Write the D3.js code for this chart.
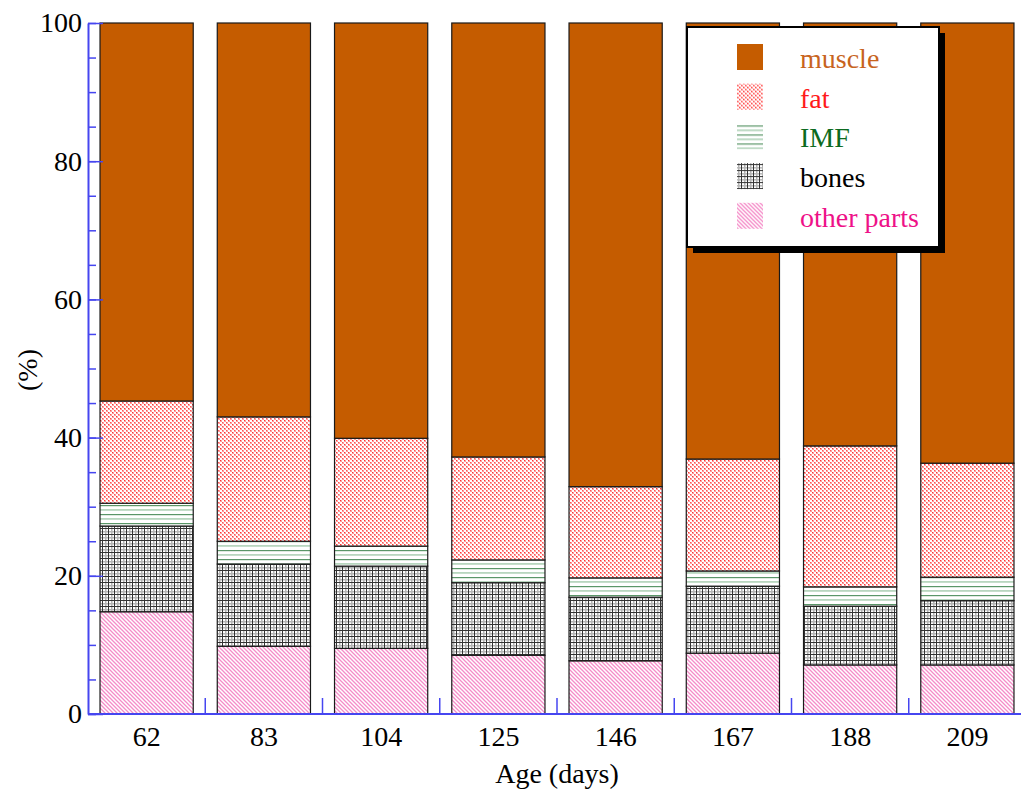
<!DOCTYPE html>
<html>
<head>
<meta charset="utf-8">
<script src="https://cdn.jsdelivr.net/npm/d3@7"></script>
<style>
body { margin: 0; background: #fff; }
svg { display: block; font-family: "Liberation Serif", "DejaVu Serif", serif; }
</style>
</head>
<body>
<svg class="chart"></svg>
<script>
/////////////// data ////////////////
const AGES = ["62", "83", "104", "125", "146", "167", "188", "209"];
// share of each part (%), read bottom to top
const OTHER = [14.8, 9.8, 9.5, 8.5, 7.7, 8.8, 7.1, 7.1];
const BONES = [12.4, 11.9, 11.9, 10.5, 9.2, 9.7, 8.5, 9.3];
const IMF = [3.3, 3.3, 2.9, 3.3, 2.8, 2.2, 2.8, 3.4];
const FAT = [14.8, 18.0, 15.6, 14.9, 13.2, 16.2, 20.4, 16.5];
const MUSCLE = [54.7, 57.0, 60.1, 62.8, 67.1, 63.1, 61.2, 63.7];
const KEYS = ["other", "bones", "imf", "fat", "muscle"];
const LEGEND_ORDER = ["muscle", "fat", "imf", "bones", "other"];
const LABELS = { muscle: "muscle", fat: "fat", imf: "IMF", bones: "bones", other: "other parts" };
const TEXT_COL = { muscle: "#c8641e", fat: "#ff1a1a", imf: "#0c6a20", bones: "#000", other: "#ee1188" };
const Y_MAJOR = [0, 20, 40, 60, 80, 100];

/////////////// layout ////////////////
const W = 1021;
const H = 792;
const AXIS_COL = "#4646f0";
const SVG = d3.select(".chart")
    .attr("width", W)
    .attr("height", H);

const X = d3.scaleBand()
    .domain(AGES)
    .range([88, 1026])
    .paddingInner(0.205)
    .paddingOuter(0.1025);
const Y = d3.scaleLinear()
    .domain([0, 100])
    .range([714, 23]);

// table for the stack
const rows = AGES.map((a, i) => ({
    age: a, other: OTHER[i], bones: BONES[i], imf: IMF[i], fat: FAT[i], muscle: MUSCLE[i]
}));
const series = d3.stack().keys(KEYS)(rows);

/////////////// fill patterns ////////////////
const DEFS = SVG.append("defs");
// fat: fine red checker
const patFat = DEFS.append("pattern").attr("id", "p-fat")
    .attr("patternUnits", "userSpaceOnUse").attr("width", 4).attr("height", 4);
patFat.append("rect").attr("width", 4).attr("height", 4).attr("fill", "#fff");
patFat.append("rect").attr("width", 2).attr("height", 2).attr("fill", "#ff9c9c");
patFat.append("rect").attr("x", 2).attr("y", 2).attr("width", 2).attr("height", 2).attr("fill", "#ff9c9c");
patFat.append("rect").attr("width", 1).attr("height", 1).attr("fill", "#f33");
patFat.append("rect").attr("x", 2).attr("y", 2).attr("width", 1).attr("height", 1).attr("fill", "#f55");
// IMF: green horizontal lines
const patImf = DEFS.append("pattern").attr("id", "p-imf")
    .attr("patternUnits", "userSpaceOnUse").attr("width", 8).attr("height", 9);
patImf.append("rect").attr("width", 8).attr("height", 9).attr("fill", "#fff");
patImf.append("rect").attr("y", 1).attr("width", 8).attr("height", 1.2).attr("fill", "#5a9668");
patImf.append("rect").attr("y", 5).attr("width", 8).attr("height", 1.8).attr("fill", "#b8d6bf");
// bones: black grid
const patBones = DEFS.append("pattern").attr("id", "p-bones")
    .attr("patternUnits", "userSpaceOnUse").attr("width", 6).attr("height", 6);
patBones.append("rect").attr("width", 6).attr("height", 6).attr("fill", "#fff");
patBones.append("rect").attr("x", 3).attr("width", 1.5).attr("height", 6).attr("fill", "#b4b4b4");
patBones.append("rect").attr("y", 3).attr("width", 6).attr("height", 1.5).attr("fill", "#b4b4b4");
patBones.append("rect").attr("width", 1).attr("height", 6).attr("fill", "#333");
patBones.append("rect").attr("width", 6).attr("height", 1).attr("fill", "#333");
// other parts: pink diagonal hatch
const patOther = DEFS.append("pattern").attr("id", "p-other")
    .attr("patternUnits", "userSpaceOnUse").attr("width", 4).attr("height", 4);
patOther.append("rect").attr("width", 4).attr("height", 4).attr("fill", "#fff");
patOther.append("path").attr("d", "M-1,-1 L5,5 M-1,3 L1,5 M3,-1 L5,1")
    .attr("stroke", "#f58cc8").attr("stroke-width", 1.3);
const FILL = {
    muscle: "#c55c00", fat: "url(#p-fat)", imf: "url(#p-imf)",
    bones: "url(#p-bones)", other: "url(#p-other)"
};

/////////////// bars ////////////////
const BAR_GRP = SVG.append("g").attr("id", "bars");
BAR_GRP.selectAll("g")
    .data(series)
    .enter()
    .append("g")
    .attr("class", d => d.key)
    .selectAll("rect")
    .data(d => d.map(p => ({ key: d.key, p: p })))
    .enter()
    .append("rect")
    .attr("x", d => X(d.p.data.age))
    .attr("y", d => Y(d.p[1]))
    .attr("width", X.bandwidth())
    .attr("height", d => Y(d.p[0]) - Y(d.p[1]))
    .attr("fill", d => FILL[d.key])
    .attr("stroke", "#1a1a1a")
    .attr("stroke-width", 1.2);

/////////////// axes ////////////////
// y minor ticks
SVG.append("g")
    .attr("transform", `translate(${X.range()[0]},0)`)
    .call(d3.axisLeft(Y).tickValues(d3.range(0, 101, 5)).tickSize(-8).tickFormat(""))
    .call(g => g.selectAll("line").attr("stroke", AXIS_COL).attr("stroke-width", 1.5))
    .call(g => g.select(".domain").remove());
// y major ticks and labels
SVG.append("g")
    .attr("transform", `translate(${X.range()[0]},0)`)
    .call(d3.axisLeft(Y).tickValues(Y_MAJOR).tickSizeInner(-15).tickSizeOuter(0).tickPadding(6))
    .call(g => g.select(".domain").attr("stroke", AXIS_COL).attr("stroke-width", 2))
    .call(g => g.selectAll("line").attr("stroke", AXIS_COL).attr("stroke-width", 1.5))
    .call(g => g.selectAll("text").attr("fill", "#000")
        .style("font-family", "Liberation Serif").style("font-size", "28px"));
// x labels
SVG.append("g")
    .attr("transform", `translate(0,${Y(0)})`)
    .call(d3.axisBottom(X).tickSize(0).tickPadding(12))
    .call(g => g.select(".domain").remove())
    .call(g => g.selectAll("text").attr("fill", "#000")
        .style("font-family", "Liberation Serif").style("font-size", "28px"));
// x baseline and ticks between bars
SVG.append("line")
    .attr("x1", X.range()[0]).attr("x2", W)
    .attr("y1", Y(0)).attr("y2", Y(0))
    .attr("stroke", AXIS_COL).attr("stroke-width", 2);
SVG.append("g")
    .selectAll("line")
    .data(AGES.slice(1))
    .enter()
    .append("line")
    .attr("x1", d => X(d) - X.step() * X.paddingInner() / 2)
    .attr("x2", d => X(d) - X.step() * X.paddingInner() / 2)
    .attr("y1", Y(0))
    .attr("y2", Y(0) - 16)
    .attr("stroke", AXIS_COL)
    .attr("stroke-width", 1.5);

// axis titles
SVG.append("text")
    .attr("x", 557)
    .attr("y", 783)
    .attr("text-anchor", "middle")
    .style("font-size", "28px")
    .text("Age (days)");
SVG.append("text")
    .attr("transform", "translate(37,370) rotate(-90)")
    .attr("text-anchor", "middle")
    .style("font-size", "28px")
    .text("(%)");

/////////////// legend ////////////////
const LEG = SVG.append("g").attr("transform", "translate(687,27)");
LEG.append("rect")
    .attr("x", 6).attr("y", 6).attr("width", 252).attr("height", 220)
    .attr("fill", "#000");
LEG.append("rect")
    .attr("width", 252).attr("height", 220)
    .attr("fill", "#fff").attr("stroke", "#000").attr("stroke-width", 2);
const item = LEG.selectAll("g.item")
    .data(LEGEND_ORDER)
    .enter()
    .append("g")
    .attr("class", "item")
    .attr("transform", (d, i) => `translate(0,${i * 39.7})`);
item.append("rect")
    .attr("x", 50).attr("y", 17).attr("width", 26).attr("height", 26)
    .attr("fill", d => FILL[d]);
item.append("text")
    .attr("x", 113).attr("y", 41)
    .attr("fill", d => TEXT_COL[d])
    .style("font-size", "28px")
    .text(d => LABELS[d]);
</script>
</body>
</html>
